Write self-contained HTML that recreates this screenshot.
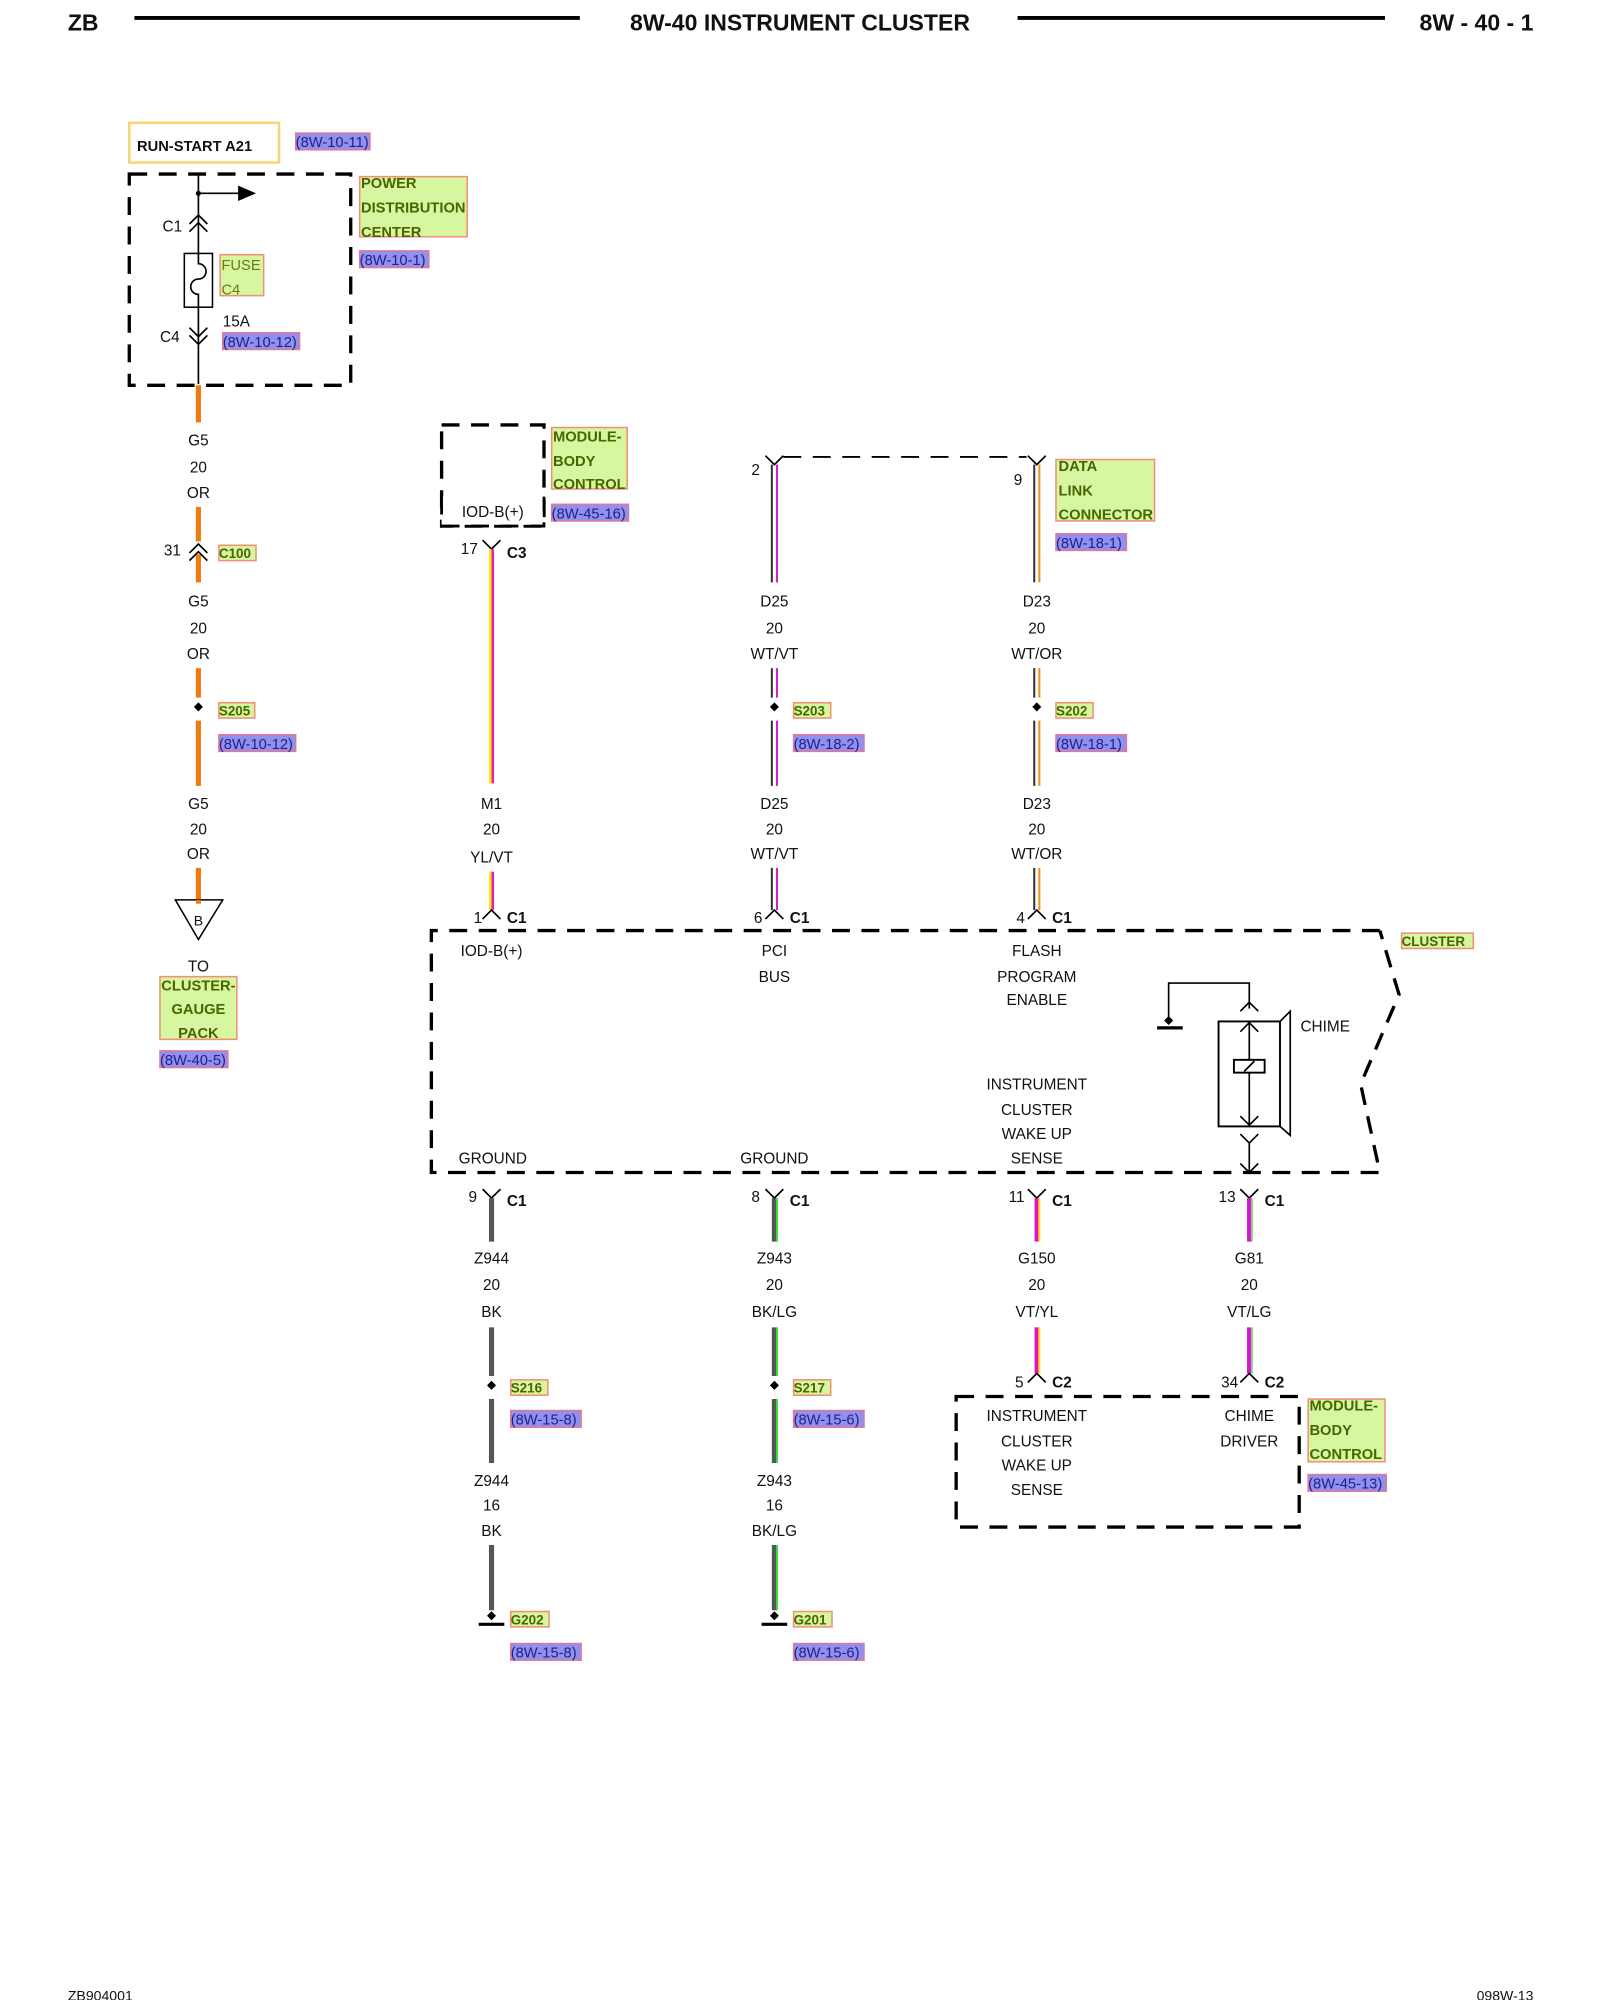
<!DOCTYPE html>
<html><head><meta charset="utf-8"><style>
html,body{margin:0;padding:0;background:#fff}
svg{display:block}
text{font-family:"Liberation Sans",sans-serif;font-size:12px;fill:#111}
.c{text-anchor:middle}
.b{font-weight:bold}
.g{font-weight:bold;font-size:11.5px;fill:#4a6400}
.r{font-size:11.5px;fill:#20208a}
.gb{fill:#d6f7a0;stroke:#f0907a;stroke-width:1.2}
.rb{fill:#9090ee;stroke:#e07898;stroke-width:1.2}
.d{fill:none;stroke:#000;stroke-width:2.6;stroke-dasharray:14,9}
.k{fill:none;stroke:#000;stroke-width:1.3}
</style></head><body>
<svg width="1600" height="2000" viewBox="0 0 1250 1562.5" xmlns="http://www.w3.org/2000/svg">
<!-- header -->
<text x="53" y="24" class="b" style="font-size:18px">ZB</text>
<line x1="105" y1="14" x2="453" y2="14" stroke="#000" stroke-width="3"/>
<text x="625" y="24" class="b c" style="font-size:18px">8W-40 INSTRUMENT CLUSTER</text>
<line x1="795" y1="14" x2="1082" y2="14" stroke="#000" stroke-width="3"/>
<text x="1198" y="24" class="b" text-anchor="end" style="font-size:18px">8W - 40 - 1</text>

<!-- RUN-START -->
<rect x="101" y="96" width="117" height="31" fill="#fff" stroke="#f5d77a" stroke-width="2"/>
<text x="107" y="118" class="b" style="font-size:11.5px">RUN-START A21</text>
<rect x="231" y="104" width="58" height="13" class="rb"/><text x="231" y="115" class="r">(8W-10-11)</text>

<!-- PDC -->
<rect x="101" y="136" width="173" height="165" class="d" stroke-width="2"/>
<line x1="155" y1="136" x2="155" y2="300" class="k"/>
<circle cx="155" cy="151" r="2" fill="#000"/>
<line x1="155" y1="151" x2="188" y2="151" class="k"/>
<polygon points="186,145 200,151 186,157" fill="#000"/>
<path d="M148,175 L155,168 L162,175 M148,181 L155,174 L162,181" class="k"/>
<text x="127" y="181">C1</text>
<rect x="144" y="198" width="22" height="42" fill="#fff" stroke="#000" stroke-width="1.2"/>
<path d="M155,198 v8 a6,6 0 0 1 0,12 a6,6 0 0 0 0,12 v10" class="k"/>
<rect x="172" y="199" width="34" height="32" class="gb"/>
<text x="173" y="211" style="font-size:11.5px;fill:#6a7a10">FUSE</text><text x="173" y="230" style="font-size:11.5px;fill:#6a7a10">C4</text>
<text x="174" y="255">15A</text>
<path d="M148,256 L155,263 L162,256 M148,262 L155,269 L162,262" class="k"/>
<text x="125" y="267">C4</text>
<rect x="174" y="260" width="60" height="13" class="rb"/><text x="174" y="271" class="r">(8W-10-12)</text>
<rect x="281" y="138" width="84" height="47" class="gb"/>
<text x="282" y="147" class="g">POWER</text><text x="282" y="166" class="g">DISTRIBUTION</text><text x="282" y="185" class="g">CENTER</text>
<rect x="281" y="196" width="54" height="13" class="rb"/><text x="281" y="207" class="r">(8W-10-1)</text>

<!-- col A wire -->
<g stroke="#f07a10" stroke-width="4">
<line x1="155" y1="301" x2="155" y2="330"/><line x1="155" y1="396" x2="155" y2="423"/>
<line x1="155" y1="433" x2="155" y2="455"/><line x1="155" y1="522" x2="155" y2="545"/>
<line x1="155" y1="563" x2="155" y2="614"/><line x1="155" y1="678" x2="155" y2="704"/>
</g>
<text x="155" y="348" class="c">G5</text><text x="155" y="369" class="c">20</text><text x="155" y="389" class="c">OR</text>
<path d="M148,432 L155,425 L162,432 M148,438 L155,431 L162,438" class="k"/>
<text x="128" y="434">31</text>
<rect x="171" y="426" width="29" height="12" class="gb"/><text x="171" y="436" class="g" style="font-size:10.5px">C100</text>
<text x="155" y="474" class="c">G5</text><text x="155" y="495" class="c">20</text><text x="155" y="515" class="c">OR</text>
<rect x="152" y="550" width="5" height="5" fill="#000" transform="rotate(45 155 553)"/>
<rect x="171" y="549" width="28" height="12" class="gb"/><text x="171" y="559" class="g" style="font-size:10.5px">S205</text>
<rect x="171" y="574" width="60" height="13" class="rb"/><text x="171" y="585" class="r">(8W-10-12)</text>
<text x="155" y="632" class="c">G5</text><text x="155" y="652" class="c">20</text><text x="155" y="671" class="c">OR</text>
<polygon points="137,703 174,703 155,734" fill="#fff" stroke="#000" stroke-width="1.2"/>
<line x1="155" y1="703" x2="155" y2="706" stroke="#f07a10" stroke-width="4"/>
<text x="155" y="723" class="c" style="font-size:11px">B</text>
<text x="155" y="759" class="c">TO</text>
<rect x="125" y="763" width="60" height="49" class="gb"/>
<text x="155" y="774" class="g c">CLUSTER-</text><text x="155" y="792" class="g c">GAUGE</text><text x="155" y="811" class="g c">PACK</text>
<rect x="125" y="821" width="53" height="13" class="rb"/><text x="125" y="832" class="r">(8W-40-5)</text>

<!-- col B -->
<rect x="345" y="332" width="80" height="79" class="d" stroke-width="2.2"/>
<rect x="345" y="388" width="79" height="22" fill="#fff"/>
<path d="M345,388 V411 H425 V388" fill="none" stroke="#000" stroke-width="2.2" stroke-dasharray="14,9"/>
<text x="385" y="404" class="c">IOD-B(+)</text>
<rect x="431" y="334" width="59" height="48" class="gb"/>
<text x="432" y="345" class="g">MODULE-</text><text x="432" y="364" class="g">BODY</text><text x="432" y="382" class="g">CONTROL</text>
<rect x="431" y="394" width="60" height="13" class="rb"/><text x="431" y="405" class="r">(8W-45-16)</text>
<path d="M377,422 L384,429 L391,422" class="k"/>
<text x="360" y="433">17</text><text x="396" y="436" class="b">C3</text>
<g stroke-width="2"><line x1="383" y1="429" x2="383" y2="612" stroke="#ffe800"/><line x1="385" y1="429" x2="385" y2="612" stroke="#e020c8"/>
<line x1="383" y1="681" x2="383" y2="711" stroke="#ffe800"/><line x1="385" y1="681" x2="385" y2="711" stroke="#e020c8"/></g>
<text x="384" y="632" class="c">M1</text><text x="384" y="652" class="c">20</text><text x="384" y="674" class="c">YL/VT</text>
<path d="M377,718 L384,711 L391,718" class="k"/>
<text x="370" y="721">1</text><text x="396" y="721" class="b">C1</text>

<!-- col C & D (double wires) -->
<path d="M598,356 L605,363 L612,356 M803,356 L810,363 L817,356" class="k"/>
<path d="M612,357 L802,357" fill="none" stroke="#000" stroke-width="1.5" stroke-dasharray="14,9"/>
<text x="587" y="371">2</text><text x="792" y="379">9</text>
<g stroke-width="1.6">
<path d="M603,363V455M603,522V545M603,563V614M603,678V711" stroke="#333"/>
<path d="M607,363V455M607,522V545M607,563V614M607,678V711" stroke="#d020c8"/>
<path d="M808,363V455M808,522V545M808,563V614M808,678V711" stroke="#333"/>
<path d="M812,363V455M812,522V545M812,563V614M812,678V711" stroke="#f0901a"/>
</g>
<rect x="825" y="359" width="77" height="48" class="gb"/>
<text x="827" y="368" class="g">DATA</text><text x="827" y="387" class="g">LINK</text><text x="827" y="406" class="g">CONNECTOR</text>
<rect x="825" y="417" width="55" height="13" class="rb"/><text x="825" y="428" class="r">(8W-18-1)</text>
<text x="605" y="474" class="c">D25</text><text x="605" y="495" class="c">20</text><text x="605" y="515" class="c">WT/VT</text>
<text x="810" y="474" class="c">D23</text><text x="810" y="495" class="c">20</text><text x="810" y="515" class="c">WT/OR</text>
<rect x="602" y="550" width="5" height="5" fill="#000" transform="rotate(45 605 553)"/>
<rect x="807" y="550" width="5" height="5" fill="#000" transform="rotate(45 810 553)"/>
<rect x="620" y="549" width="29" height="12" class="gb"/><text x="620" y="559" class="g" style="font-size:10.5px">S203</text>
<rect x="825" y="549" width="29" height="12" class="gb"/><text x="825" y="559" class="g" style="font-size:10.5px">S202</text>
<rect x="620" y="574" width="55" height="13" class="rb"/><text x="620" y="585" class="r">(8W-18-2)</text>
<rect x="825" y="574" width="55" height="13" class="rb"/><text x="825" y="585" class="r">(8W-18-1)</text>
<text x="605" y="632" class="c">D25</text><text x="605" y="652" class="c">20</text><text x="605" y="671" class="c">WT/VT</text>
<text x="810" y="632" class="c">D23</text><text x="810" y="652" class="c">20</text><text x="810" y="671" class="c">WT/OR</text>
<path d="M598,718 L605,711 L612,718 M803,718 L810,711 L817,718" class="k"/>
<text x="589" y="721">6</text><text x="617" y="721" class="b">C1</text>
<text x="794" y="721">4</text><text x="822" y="721" class="b">C1</text>

<!-- cluster box -->
<path d="M1078,727 H337 V916 H1078 L1063,847 L1093,777 L1078,727" class="d"/>
<rect x="1095" y="729" width="56" height="12" class="gb"/><text x="1095" y="739" class="g" style="font-size:10.5px">CLUSTER</text>
<text x="384" y="747" class="c">IOD-B(+)</text>
<text x="605" y="747" class="c">PCI</text><text x="605" y="767" class="c">BUS</text>
<text x="810" y="747" class="c">FLASH</text><text x="810" y="767" class="c">PROGRAM</text><text x="810" y="785" class="c">ENABLE</text>
<text x="810" y="851" class="c">INSTRUMENT</text><text x="810" y="871" class="c">CLUSTER</text><text x="810" y="890" class="c">WAKE UP</text><text x="810" y="909" class="c">SENSE</text>
<text x="385" y="909" class="c">GROUND</text><text x="605" y="909" class="c">GROUND</text>
<!-- chime -->
<path d="M913,797 V768 H976 V788" class="k"/>
<rect x="910" y="795" width="5" height="5" fill="#000" transform="rotate(45 913 798)"/>
<line x1="904" y1="803" x2="924" y2="803" stroke="#000" stroke-width="2.5"/>
<path d="M969,790 L976,783 L983,790" class="k"/>
<rect x="952" y="798" width="48" height="82" fill="none" stroke="#000" stroke-width="1.5"/>
<path d="M1000,798 L1008,790 V887 L1000,880" class="k"/>
<line x1="976" y1="799" x2="976" y2="879" class="k"/>
<path d="M969,806 L976,799 L983,806 M969,872 L976,879 L983,872" class="k"/>
<rect x="964" y="828" width="24" height="10" fill="#fff" stroke="#000" stroke-width="1.5"/>
<line x1="972" y1="837" x2="980" y2="829" class="k"/>
<path d="M969,886 L976,893 L983,886 M976,893 V916 M969,909 L976,916 L983,909" class="k"/>
<text x="1016" y="806">CHIME</text>

<!-- bottom wires -->
<path d="M377,929 L384,936 L391,929 M598,929 L605,936 L612,929 M803,929 L810,936 L817,929 M969,929 L976,936 L983,929" class="k"/>
<text x="366" y="939">9</text><text x="396" y="942" class="b">C1</text>
<text x="587" y="939">8</text><text x="617" y="942" class="b">C1</text>
<text x="788" y="939">11</text><text x="822" y="942" class="b">C1</text>
<text x="952" y="939">13</text><text x="988" y="942" class="b">C1</text>
<g stroke-width="4" stroke="#555"><path d="M384,936V970M384,1037V1075M384,1093V1143M384,1207V1258"/>
<path d="M605,936V970M605,1037V1075M605,1093V1143M605,1207V1258"/></g>
<path d="M607,936V970M607,1037V1075M607,1093V1143M607,1207V1258" stroke="#30e030" stroke-width="1.6"/>
<path d="M810,936V970M810,1037V1073M976,936V970M976,1037V1073" stroke="#e010d0" stroke-width="3.5"/>
<path d="M812,936V970M812,1037V1073" stroke="#ffe800" stroke-width="1.5"/>
<path d="M978,936V970M978,1037V1073" stroke="#7ad07a" stroke-width="1.5"/>
<text x="384" y="987" class="c">Z944</text><text x="384" y="1008" class="c">20</text><text x="384" y="1029" class="c">BK</text>
<text x="605" y="987" class="c">Z943</text><text x="605" y="1008" class="c">20</text><text x="605" y="1029" class="c">BK/LG</text>
<text x="810" y="987" class="c">G150</text><text x="810" y="1008" class="c">20</text><text x="810" y="1029" class="c">VT/YL</text>
<text x="976" y="987" class="c">G81</text><text x="976" y="1008" class="c">20</text><text x="976" y="1029" class="c">VT/LG</text>
<rect x="381" y="1080" width="5" height="5" fill="#000" transform="rotate(45 384 1083)"/>
<rect x="602" y="1080" width="5" height="5" fill="#000" transform="rotate(45 605 1083)"/>
<rect x="399" y="1078" width="29" height="12" class="gb"/><text x="399" y="1088" class="g" style="font-size:10.5px">S216</text>
<rect x="620" y="1078" width="29" height="12" class="gb"/><text x="620" y="1088" class="g" style="font-size:10.5px">S217</text>
<rect x="399" y="1102" width="55" height="13" class="rb"/><text x="399" y="1113" class="r">(8W-15-8)</text>
<rect x="620" y="1102" width="55" height="13" class="rb"/><text x="620" y="1113" class="r">(8W-15-6)</text>
<text x="384" y="1161" class="c">Z944</text><text x="384" y="1180" class="c">16</text><text x="384" y="1200" class="c">BK</text>
<text x="605" y="1161" class="c">Z943</text><text x="605" y="1180" class="c">16</text><text x="605" y="1200" class="c">BK/LG</text>
<rect x="381" y="1260" width="5" height="5" fill="#000" transform="rotate(45 384 1263)"/>
<rect x="602" y="1260" width="5" height="5" fill="#000" transform="rotate(45 605 1263)"/>
<line x1="374" y1="1269" x2="394" y2="1269" stroke="#000" stroke-width="2.5"/>
<line x1="595" y1="1269" x2="615" y2="1269" stroke="#000" stroke-width="2.5"/>
<rect x="399" y="1259" width="30" height="12" class="gb"/><text x="399" y="1269" class="g" style="font-size:10.5px">G202</text>
<rect x="620" y="1259" width="30" height="12" class="gb"/><text x="620" y="1269" class="g" style="font-size:10.5px">G201</text>
<rect x="399" y="1284" width="55" height="13" class="rb"/><text x="399" y="1295" class="r">(8W-15-8)</text>
<rect x="620" y="1284" width="55" height="13" class="rb"/><text x="620" y="1295" class="r">(8W-15-6)</text>

<!-- MBC lower -->
<path d="M803,1080 L810,1073 L817,1080 M969,1080 L976,1073 L983,1080" class="k"/>
<text x="793" y="1084">5</text><text x="822" y="1084" class="b">C2</text>
<text x="954" y="1084">34</text><text x="988" y="1084" class="b">C2</text>
<rect x="747" y="1091" width="268" height="102" class="d"/>
<text x="810" y="1110" class="c">INSTRUMENT</text><text x="810" y="1130" class="c">CLUSTER</text><text x="810" y="1149" class="c">WAKE UP</text><text x="810" y="1168" class="c">SENSE</text>
<text x="976" y="1110" class="c">CHIME</text><text x="976" y="1130" class="c">DRIVER</text>
<rect x="1022" y="1093" width="60" height="49" class="gb"/>
<text x="1023" y="1102" class="g">MODULE-</text><text x="1023" y="1121" class="g">BODY</text><text x="1023" y="1140" class="g">CONTROL</text>
<rect x="1022" y="1152" width="61" height="13" class="rb"/><text x="1022" y="1163" class="r">(8W-45-13)</text>

<text x="53" y="1563" style="font-size:11px">ZB904001</text>
<text x="1198" y="1563" text-anchor="end" style="font-size:11px">098W-13</text>
</svg>
</body></html>
